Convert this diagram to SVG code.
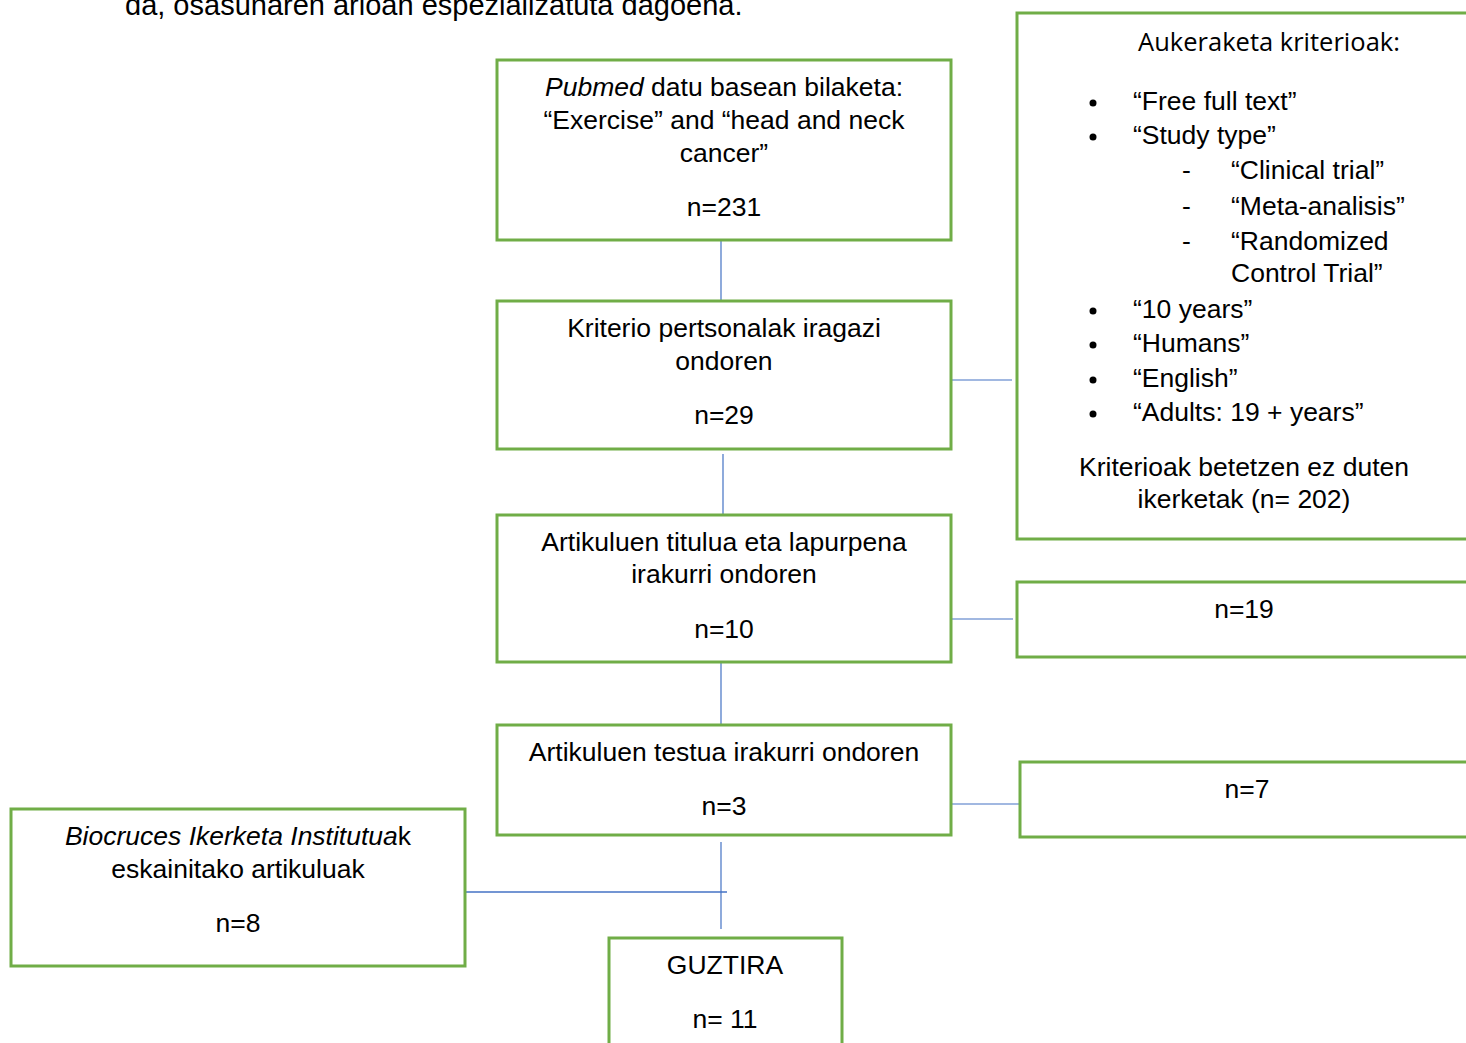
<svg xmlns="http://www.w3.org/2000/svg" width="1466" height="1043" viewBox="0 0 1466 1043">
<style>
.box{fill:#fff;stroke:#70AD47;stroke-width:3}
.t{font-family:"Liberation Sans",Arial,sans-serif;font-size:26.5px;fill:#000}
.c{text-anchor:middle}
.cal{font-family:"Open Sans","Noto Sans",sans-serif;font-size:25.5px;fill:#000}
.ln{stroke:#4472C4;stroke-width:1.2;fill:none}
</style>
<rect width="1466" height="1043" fill="#fff"/>
<text x="125" y="15" style="font-family:'Liberation Sans',Arial,sans-serif;font-size:29px;fill:#000">da, osasunaren arloan espezializatuta dagoena.</text>
<g id="connectors">
<line class="ln" x1="721" y1="241" x2="721" y2="300"/>
<line class="ln" x1="723" y1="454" x2="723" y2="514"/>
<line class="ln" x1="952" y1="380" x2="1012" y2="380"/>
<line class="ln" x1="952" y1="619" x2="1013" y2="619"/>
<line class="ln" x1="721" y1="663" x2="721" y2="724"/>
<line class="ln" x1="952" y1="804" x2="1019" y2="804"/>
<line class="ln" x1="721" y1="842" x2="721" y2="929"/>
<line class="ln" x1="466" y1="892" x2="727" y2="892" style="stroke-width:1.6"/>
</g>
<g id="n1">
<rect class="box" x="497" y="60" width="454" height="180"/>
<text class="t c" x="724" y="96"><tspan font-style="italic">Pubmed</tspan> datu basean bilaketa:</text>
<text class="t c" x="724" y="129">“Exercise” and “head and neck</text>
<text class="t c" x="724" y="162">cancer”</text>
<text class="t c" x="724" y="216">n=231</text>
</g>
<g id="n2">
<rect class="box" x="497" y="301" width="454" height="148"/>
<text class="t c" x="724" y="337">Kriterio pertsonalak iragazi</text>
<text class="t c" x="724" y="370">ondoren</text>
<text class="t c" x="724" y="424">n=29</text>
</g>
<g id="n3">
<rect class="box" x="497" y="515" width="454" height="147"/>
<text class="t c" x="724" y="551">Artikuluen titulua eta lapurpena</text>
<text class="t c" x="724" y="583">irakurri ondoren</text>
<text class="t c" x="724" y="638">n=10</text>
</g>
<g id="n4">
<rect class="box" x="497" y="725" width="454" height="110"/>
<text class="t c" x="724" y="761">Artikuluen testua irakurri ondoren</text>
<text class="t c" x="724" y="815">n=3</text>
</g>
<g id="n5">
<rect class="box" x="11" y="809" width="454" height="157"/>
<text class="t c" x="238" y="845"><tspan font-style="italic">Biocruces Ikerketa Institutua</tspan>k</text>
<text class="t c" x="238" y="878">eskainitako artikuluak</text>
<text class="t c" x="238" y="932">n=8</text>
</g>
<g id="n6">
<rect class="box" x="609" y="938" width="233" height="120"/>
<text class="t c" x="725" y="974">GUZTIRA</text>
<text class="t c" x="725" y="1028">n= 11</text>
</g>
<g id="criteria">
<rect class="box" x="1017" y="13" width="460" height="526"/>
<text class="cal c" x="1269" y="51">Aukeraketa kriterioak:</text>
<g class="t">
<circle cx="1093" cy="103" r="3.5"/>
<circle cx="1093" cy="137" r="3.5"/>
<circle cx="1093" cy="311" r="3.5"/>
<circle cx="1093" cy="345" r="3.5"/>
<circle cx="1093" cy="380" r="3.5"/>
<circle cx="1093" cy="414" r="3.5"/>
<text x="1133" y="110">“Free full text”</text>
<text x="1133" y="144">“Study type”</text>
<text x="1182" y="179">-</text>
<text x="1231" y="179">“Clinical trial”</text>
<text x="1182" y="215">-</text>
<text x="1231" y="215">“Meta-analisis”</text>
<text x="1182" y="250">-</text>
<text x="1231" y="250">“Randomized</text>
<text x="1231" y="282">Control Trial”</text>
<text x="1133" y="318">“10 years”</text>
<text x="1133" y="352">“Humans”</text>
<text x="1133" y="387">“English”</text>
<text x="1133" y="421">“Adults: 19 + years”</text>
</g>
<text class="t c" x="1244" y="476">Kriterioak betetzen ez duten</text>
<text class="t c" x="1244" y="508">ikerketak (n= 202)</text>
</g>
<g id="n19">
<rect class="box" x="1017" y="582" width="460" height="75"/>
<text class="t c" x="1244" y="618">n=19</text>
</g>
<g id="n7">
<rect class="box" x="1020" y="762" width="457" height="75"/>
<text class="t c" x="1247" y="798">n=7</text>
</g>
</svg>
